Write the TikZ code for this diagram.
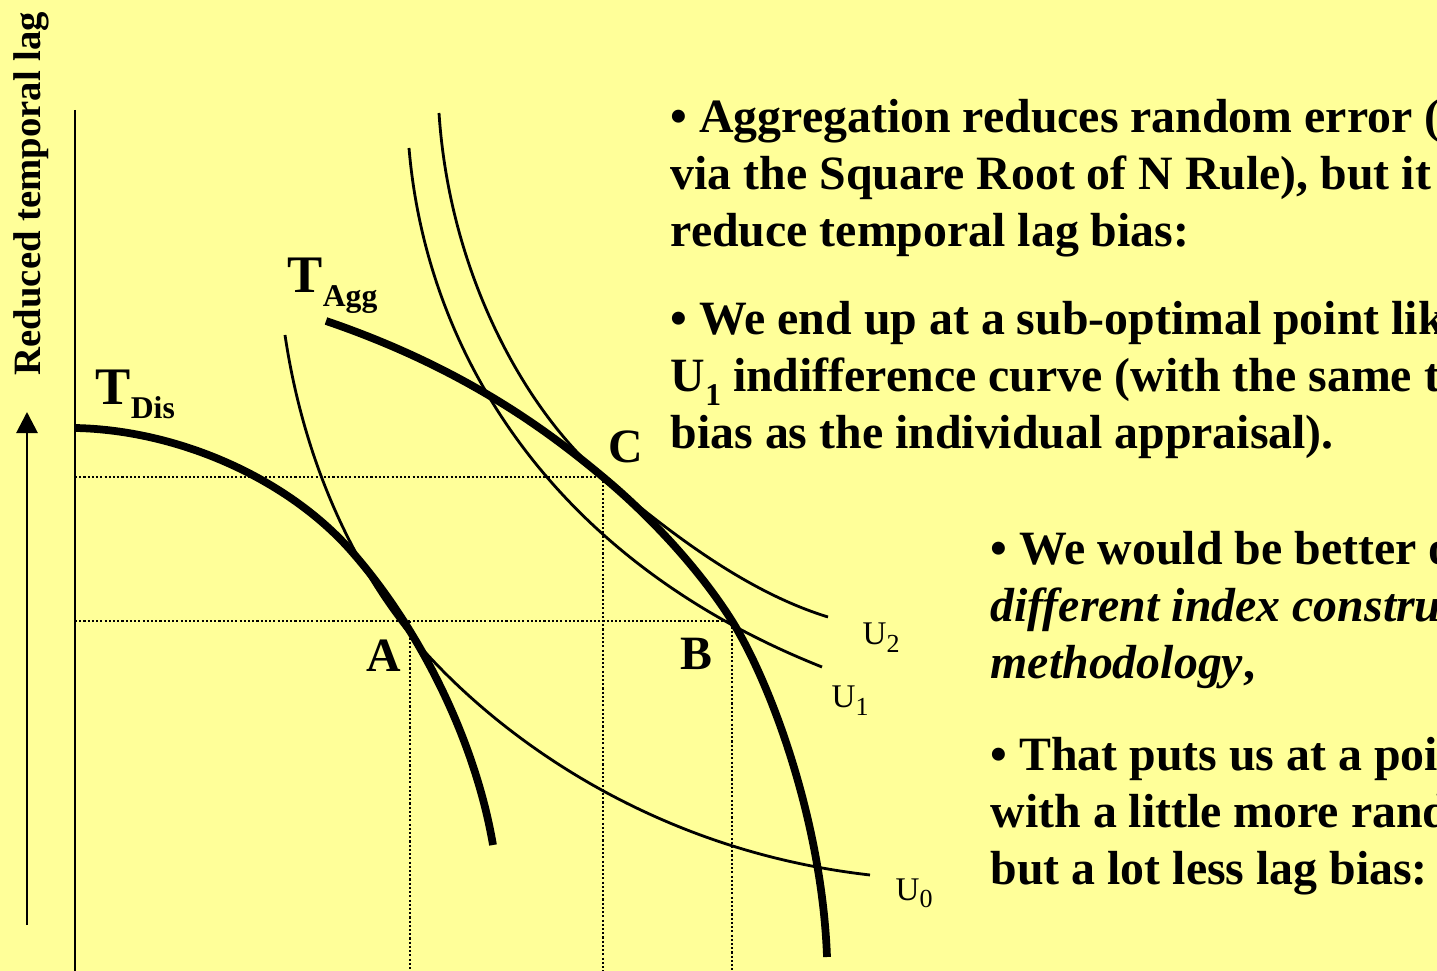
\documentclass[tikz,border=0pt]{standalone}
\usepackage{fontspec}
\setmainfont{Liberation Serif}
\usetikzlibrary{arrows.meta}
\definecolor{slideyellow}{RGB}{255,255,153}
\tikzset{
  frontier/.style={line width=2.2pt},
  indiff/.style={line width=0.8pt},
  guide/.style={line width=0.6pt, dash pattern=on 0.6pt off 0.6pt},
  bodytext/.style={anchor=base west, inner sep=0pt, font=\fontsize{13.6}{16.2}\selectfont\bfseries},
  ptlabel/.style={anchor=base west, inner sep=0pt, font=\fontsize{13.6}{16}\selectfont\bfseries},
  tlabel/.style={anchor=base west, inner sep=0pt, font=\fontsize{15}{16}\selectfont\bfseries},
  ulabel/.style={anchor=base west, inner sep=0pt, font=\fontsize{9.4}{11}\selectfont},
}
\newcommand{\lowsub}[1]{\raisebox{-3.8pt}{\fontsize{9}{10}\selectfont #1}}
\newcommand{\usub}[1]{\raisebox{-2pt}{\fontsize{7.4}{8}\selectfont #1}}
\begin{document}
\begin{tikzpicture}[x=0.01cm, y=-0.01cm]
\fill[slideyellow] (0,0) rectangle (1437,971);
\useasboundingbox (0,0) rectangle (1437,971);
\clip (0,0) rectangle (1437,971);

% axes
\coordinate (ytop) at (75,110);
\coordinate (ybot) at (75,971);
\coordinate (arrfoot) at (27,925);
\coordinate (arrhead) at (27,412);
\draw[line width=0.7pt] (ytop) -- (ybot);
\draw[line width=0.8pt, -{Triangle[width=6pt,length=6pt]}] (arrfoot) -- (arrhead);
\node[rotate=90, anchor=base west, inner sep=0pt, font=\fontsize{11}{12}\selectfont\bfseries] (ylabel) at (40,376) {Reduced temporal lag};

% points
\coordinate (ptA) at (410,621);
\coordinate (ptB) at (732,621);
\coordinate (ptC) at (603,477);
\draw[guide] (ytop |- ptC) -- (ptC) -- (ptC |- ybot);
\draw[guide] (ytop |- ptB) -- (ptB) -- (ptB |- ybot);
\draw[guide] (ptA) -- (ptA |- ybot);

% frontiers
\draw[frontier] (75,428) .. controls (180,430) and (290,480) .. (353,553)
  .. controls (420,630) and (475,740) .. (493,845);
\draw[frontier] (326,321) .. controls (470,370) and (555,437) .. (ptC)
  .. controls (650,516) and (700,570) .. (ptB)
  .. controls (770,682) and (822,820) .. (827,957);

% indifference curves
\draw[indiff] (285,335) .. controls (305,470) and (360,580) .. (425,652)
  .. controls (500,735) and (650,850) .. (870,875);
\draw[indiff] (409,148) .. controls (425,340) and (540,555) .. (822,667);
\draw[indiff] (439,113) .. controls (450,280) and (530,415) .. (ptC)
  .. controls (660,524) and (740,590) .. (828,617);

% labels
\node[tlabel] (tdis) at (95,405) {T\lowsub{Dis}};
\node[tlabel] (tagg) at (287,293) {T\lowsub{Agg}};
\node[ptlabel] (labA) at (366,672) {A};
\node[ptlabel] (labB) at (680,670) {B};
\node[ptlabel] (labC) at (608,463) {C};
\node[ulabel] (u2) at (862,645) {U\usub{2}};
\node[ulabel] (u1) at (831,708) {U\usub{1}};
\node[ulabel] (u0) at (895,900) {U\usub{0}};

% text
\foreach \txt [count=\i from 0] in {{• Aggregation reduces random error (},{via the Square Root of N Rule), but it},{reduce temporal lag bias:}}
  \node[bodytext] (agg\i) at (670,133+57*\i) {\txt};
\foreach \txt [count=\i from 0] in {{• We end up at a sub-optimal point lik},{U\lowsub{1} indifference curve (with the same t},{bias as the individual appraisal).}}
  \node[bodytext] (end\i) at (670,335+57*\i) {\txt};
\foreach \txt [count=\i from 0] in {{• We would be better o},{\itshape different index constru},{\itshape methodology\upshape,}}
  \node[bodytext] (bet\i) at (990,565+57*\i) {\txt};
\foreach \txt [count=\i from 0] in {{• That puts us at a poi},{with a little more rand},{but a lot less lag bias:}}
  \node[bodytext] (put\i) at (990,771+57*\i) {\txt};
\end{tikzpicture}
\end{document}
